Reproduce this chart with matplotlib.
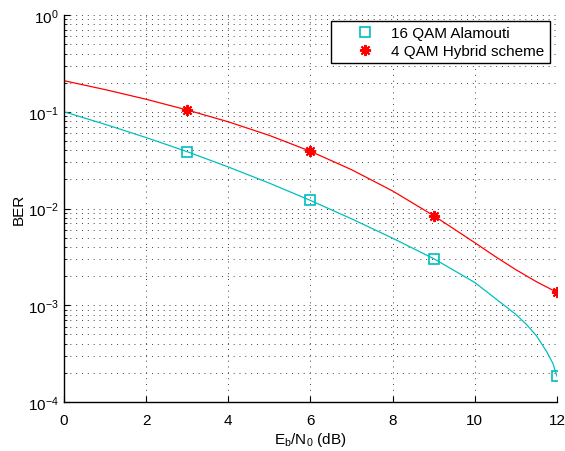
import matplotlib
matplotlib.use("Agg")
import matplotlib.pyplot as plt
from matplotlib.ticker import LogLocator, NullFormatter, FixedLocator

plt.rcParams['font.family'] = ['Liberation Sans', 'DejaVu Sans']
plt.rcParams['mathtext.default'] = 'regular'

# BER curves (dense) and the simulated points (every 3 dB)
snr_curve_alamouti = [0, 1, 2, 3, 4, 5, 6, 7, 8, 9, 10, 11, 11.25, 11.5,
                      11.75, 11.9, 12]
ber_curve_alamouti = [0.1, 0.07413, 0.05408, 0.03864, 0.02685, 0.01828,
                      0.01211, 0.00782, 0.00493, 0.00303, 0.001718, 0.000804,
                      0.000638, 0.000484, 0.000331, 0.000251, 0.000185]
snr_curve_hybrid = [0, 1, 2, 3, 4, 5, 6, 7, 8, 9, 10, 10.5, 11, 11.5, 12]
ber_curve_hybrid = [0.2094, 0.1694, 0.1346, 0.1042, 0.0787, 0.0569, 0.0390,
                    0.02518, 0.01517, 0.00843, 0.00443, 0.003184, 0.00233,
                    0.00175, 0.00136]

snr_points = [3, 6, 9, 12]
ber_points_alamouti = [0.03864, 0.01211, 0.00303, 0.000185]
ber_points_hybrid = [0.1042, 0.0390, 0.00843, 0.00136]

labels = ['16 QAM Alamouti', '4 QAM Hybrid scheme']
cyan = (0.0, 0.75, 0.75)
red = (1.0, 0.0, 0.0)

fig = plt.figure(figsize=(5.65, 4.52), dpi=100)
ax = fig.add_axes([0.1133, 0.1084, 0.8725, 0.8562])

ax.plot(snr_curve_alamouti, ber_curve_alamouti, color=cyan, lw=0.9)
ax.plot(snr_curve_hybrid, ber_curve_hybrid, color=red, lw=0.9)
ax.plot(snr_points, ber_points_alamouti, ls='none', marker='s', ms=6.5,
        mfc='none', mec=cyan, mew=1.2, label=labels[0])
ax.plot(snr_points, ber_points_hybrid, ls='none', marker=(8, 2, 0), ms=8,
        mec=red, color=red, mew=1.4, label=labels[1])

ax.set_yscale('log')
ax.set_xlim(0, 12)
ax.set_ylim(1e-4, 1)
ax.xaxis.set_major_locator(FixedLocator([0, 2, 4, 6, 8, 10, 12]))
ax.yaxis.set_major_locator(LogLocator(base=10, numticks=10))
ax.yaxis.set_minor_locator(LogLocator(base=10, subs=range(2, 10), numticks=20))
ax.yaxis.set_minor_formatter(NullFormatter())

for s in ('top', 'right'):
    ax.spines[s].set_visible(False)
for s in ('left', 'bottom'):
    ax.spines[s].set_linewidth(1.0)

ax.tick_params(which='both', direction='in', labelsize=11, colors='black')
ax.tick_params(which='major', length=4, width=0.8)
ax.tick_params(which='minor', length=2, width=0.6)
ax.tick_params(axis='x', pad=8)
ax.tick_params(axis='y', pad=4)

grid_style = dict(color='0.25', linestyle=(0, (1, 5)), linewidth=0.7)
ax.grid(True, which='major', axis='both', **grid_style)
ax.grid(True, which='minor', axis='y', **grid_style)
ax.set_axisbelow(True)

ax.set_xlabel('E$_b$/N$_0$ (dB)', fontsize=11, labelpad=2)
ax.set_ylabel('BER', fontsize=11, labelpad=1)

leg = ax.legend(loc='upper right', bbox_to_anchor=(0.985, 0.985), fontsize=11,
                fancybox=False, framealpha=1, edgecolor='black',
                handlelength=3.75, handletextpad=-0.15, borderpad=0.35,
                labelspacing=0.25, borderaxespad=0)
leg.get_frame().set_linewidth(1.0)

fig.savefig('out.png', dpi=100)
